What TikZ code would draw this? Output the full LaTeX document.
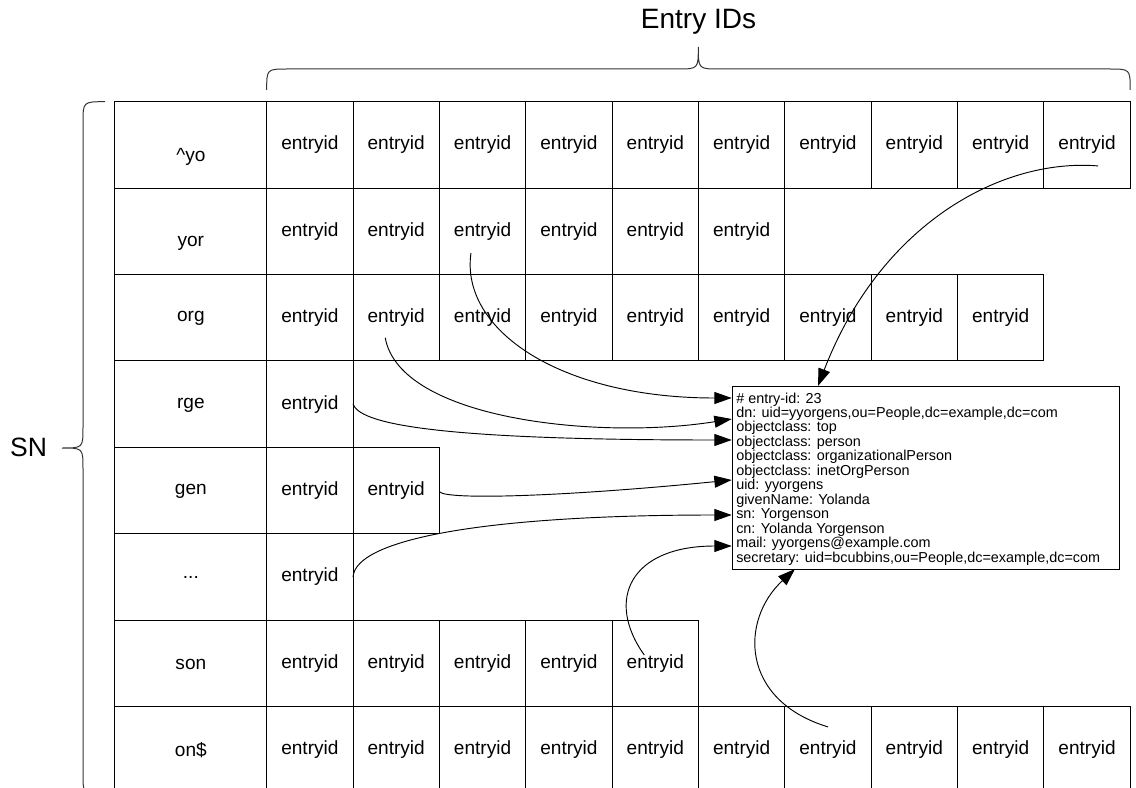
\documentclass[tikz,border=0pt]{standalone}
\usepackage{fontspec}
\setmainfont{Liberation Sans}
\usetikzlibrary{arrows.meta,calc}
\newcommand\mydots{.{}.{}.}
\begin{document}
\begin{tikzpicture}[x=0.75pt,y=-0.75pt,
  lbl/.style={font=\fontsize{14.3pt}{17pt}\selectfont, inner sep=0pt},
  labelcell/.style={draw, line width=0.75pt, minimum width=113.78pt, minimum height=64.82pt, inner sep=0pt, outer sep=0pt},
  entrycell/.style={draw, line width=0.75pt, minimum width=64.76pt, minimum height=64.82pt, inner sep=0pt, outer sep=0pt, font=\fontsize{14.3pt}{17pt}\selectfont},
  link/.style={line width=0.7pt, -{Triangle[length=13pt,width=9pt]}},
  bracepath/.style={line width=0.75pt, black!80},
  bigtext/.style={inner sep=0pt}
]
\useasboundingbox (0,0) rectangle (1136,788);

% table
\foreach \r/\lab/\n/\dy in {0/{\textasciicircum yo}/10/12, 1/yor/6/12, 2/org/9/1, 3/rge/1/1, 4/gen/2/1, 5/\mydots/1/0, 6/son/5/1, 7/on\$/10/0}{
  \pgfmathsetmacro\cy{101.7+86.43*(\r+0.5)}
  \node[labelcell] (L-\r) at (190.85,\cy) {};
  \node[lbl] (T-\r) at ([shift={(0,\dy)}]L-\r.center) {\lab};
  \foreach \j in {1,...,\n}{
    \pgfmathsetmacro\cx{266.7+86.35*(\j-0.5)}
    \node[entrycell] (c-\r-\j) at (\cx,\cy) {entryid};
  }
}

% record box
\node[draw, line width=0.75pt, anchor=north west, minimum width=290.5pt, minimum height=137.25pt, inner sep=0pt] (rec) at (731.7,386) {};
\node[anchor=north west, align=left, inner sep=0pt, font=\fontsize{10.8pt}{10.85pt}\selectfont] (rectext) at (736,392.3) {\# entry-id: 23\\
dn: uid=yyorgens,ou=People,dc=example,dc=com\\
objectclass: top\\
objectclass: person\\
objectclass: organizationalPerson\\
objectclass: inetOrgPerson\\
uid: yyorgens\\
givenName: Yolanda\\
sn: Yorgenson\\
cn: Yolanda Yorgenson\\
mail: yyorgens@example.com\\
secretary: uid=bcubbins,ou=People,dc=example,dc=com};

% arrow targets on the record
\coordinate (e1) at (818,386);
\coordinate (e2) at (731.7,398);
\coordinate (e3) at (731.7,419);
\coordinate (e4) at (731.7,440);
\coordinate (e5) at (731.7,480);
\coordinate (e6) at (731.7,515);
\coordinate (e7) at (731.7,546);
\coordinate (e8) at (795,569);

% connectors
\draw[link] ([shift={(11,21)}]c-0-10.center) .. controls (1000,158) and (880,225) .. (e1);
\draw[link] ([shift={(-11.6,21.7)}]c-1-3.center) .. controls (460,330) and (560,398) .. (e2);
\draw[link] ([shift={(-11,20)}]c-2-2.center) .. controls (400,420) and (600,440) .. (e3);
\draw[link] (c-3-1.east) .. controls (360,422) and (420,440) .. (e4);
\draw[link] ([shift={(0,1)}]c-4-2.east) .. controls (445,500) and (560,497) .. (e5);
\draw[link] (c-5-1.east) .. controls (355,540) and (480,515) .. (e6);
\draw[link] ([shift={(-11,-8.5)}]c-6-5.center) .. controls (605,600) and (630,546) .. (e7);
\draw[link] ([shift={(0,-23)}]c-7-7.center) .. controls (740,700) and (740,620) .. (e8);

% top brace
\draw[bracepath] (266.7,90) .. controls (266.7,69) .. (287.7,69) -- (677,69)
  .. controls (698.3,69) .. (698.3,47) .. controls (698.3,69) .. (719.6,69)
  -- (1109,69) .. controls (1130.2,69) .. (1130.2,90);
\node[bigtext, font=\fontsize{21pt}{25pt}\selectfont] (entryids) at (698.5,22) {Entry IDs};

% left brace
\draw[bracepath] (105,101.7) .. controls (83,101.7) .. (83,123) -- (83,427)
  .. controls (83,448) .. (62,448) .. controls (83,448) .. (83,469)
  -- (83,773) .. controls (83,795) .. (105,795);
\node[bigtext, font=\fontsize{19.9pt}{24pt}\selectfont] (sn) at (28.5,447) {SN};
\end{tikzpicture}
\end{document}
